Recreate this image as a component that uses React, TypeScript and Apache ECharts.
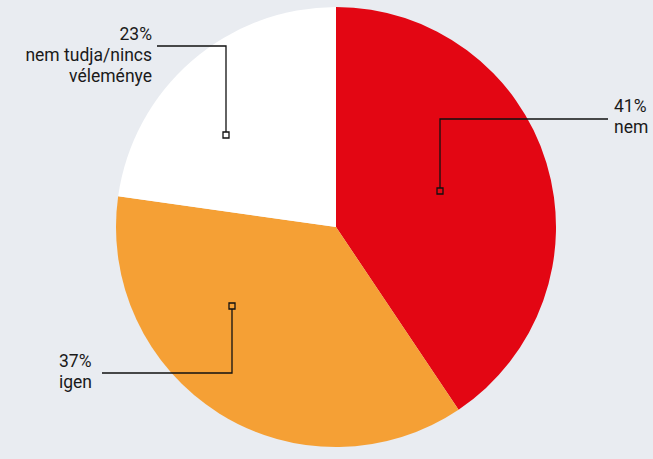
import React, { useEffect, useRef } from "react";
import * as echarts from "echarts";

const categories = ["nem", "igen", "nem tudja/nincs\nvéleménye"];
const values = [41, 37, 23];
const colors = ["#e30613", "#f5a035", "#ffffff"];

// annotation layout (marker, elbow, label anchor) per slice
const layout = [
  { marker: [440, 191], elbow: [440, 119], end: [608, 119], text: [614, 95], align: "left" },
  { marker: [232, 306], elbow: [232, 373], end: [102, 373], text: [59, 350], align: "left" },
  { marker: [226, 135], elbow: [226, 46], end: [157, 46], text: [152, 23], align: "right" },
];

export default function App() {
  const ref = useRef<HTMLDivElement>(null);
  useEffect(() => {
    document.body.style.margin = "0";
    const chart = echarts.init(ref.current!, null, { renderer: "svg" });
    const graphics: any[] = [];
    layout.forEach((l, i) => {
      graphics.push({
        type: "polyline",
        shape: { points: [l.marker, l.elbow, l.end] },
        style: { stroke: "#111", lineWidth: 1.3, fill: null },
        z: 10,
      });
      graphics.push({
        type: "rect",
        shape: { x: l.marker[0] - 3, y: l.marker[1] - 3, width: 6, height: 6 },
        style: { stroke: "#111", lineWidth: 1.3, fill: colors[i] },
        z: 11,
      });
      graphics.push({
        type: "text",
        x: l.text[0],
        y: l.text[1],
        style: {
          text: values[i] + "%\n" + categories[i],
          fill: "#1a1a1a",
          font: '17.5px Roboto',
          lineHeight: 21,
          align: l.align,
          verticalAlign: "top",
        },
        z: 12,
      });
    });
    chart.setOption({
      animation: false,
      backgroundColor: "#e9ecf1",
      series: [
        {
          type: "pie",
          center: [336, 227],
          radius: 220,
          startAngle: 90,
          clockwise: true,
          label: { show: false },
          labelLine: { show: false },
          emphasis: { disabled: true },
          itemStyle: { borderWidth: 0 },
          data: categories.map((c, i) => ({
            name: c,
            value: values[i],
            itemStyle: { color: colors[i] },
          })),
        },
      ],
      graphic: graphics,
    });
    return () => chart.dispose();
  }, []);
  return <div ref={ref} style={{ width: 653, height: 459 }} />;
}
